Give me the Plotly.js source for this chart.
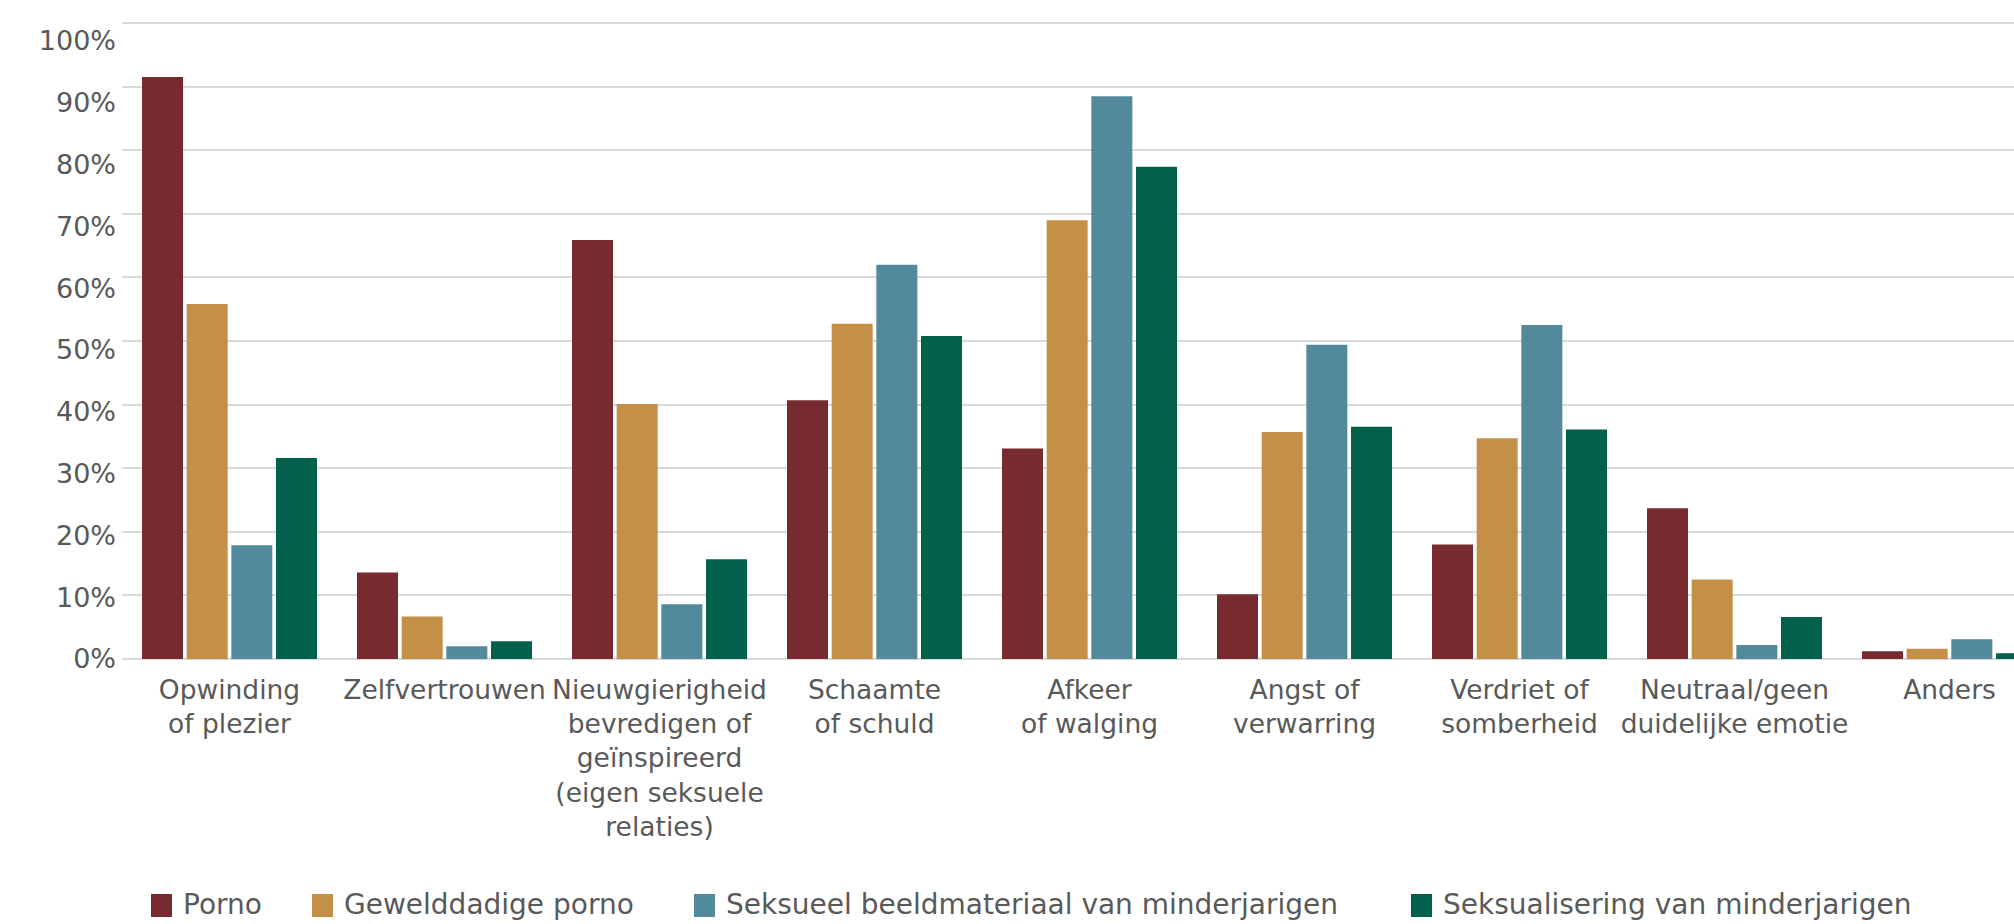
<!DOCTYPE html>
<html>
<head>
<meta charset="utf-8">
<script src="https://cdn.plot.ly/plotly-3.0.1.min.js"></script>
<style>
  html, body { margin: 0; padding: 0; background: #ffffff; }
  #chart { width: 2014px; height: 924px; }
</style>
</head>
<body>
<div id="chart"></div>
<script>
// ---- Data ----
const categories = [
  "Opwinding<br>of plezier",
  "Zelfvertrouwen",
  "Nieuwgierigheid<br>bevredigen of<br>geïnspireerd<br>(eigen seksuele<br>relaties)",
  "Schaamte<br>of schuld",
  "Afkeer<br>of walging",
  "Angst of<br>verwarring",
  "Verdriet of<br>somberheid",
  "Neutraal/geen<br>duidelijke emotie",
  "Anders"
];
const seriesNames = [
  "Porno",
  "Gewelddadige porno",
  "Seksueel beeldmateriaal van minderjarigen",
  "Seksualisering van minderjarigen"
];
const porno       = [91.5, 13.6, 65.9, 40.7, 33.1, 10.2, 18.0, 23.7, 1.2];
const geweld      = [55.8,  6.7, 40.1, 52.7, 69.0, 35.7, 34.7, 12.5, 1.6];
const seksBeeld   = [17.9,  2.0,  8.6, 62.0, 88.5, 49.4, 52.5,  2.2, 3.1];
const seksual     = [31.6,  2.8, 15.7, 50.8, 77.4, 36.5, 36.1,  6.6, 0.9];
const yTickVals   = [0, 10, 20, 30, 40, 50, 60, 70, 80, 90, 100];
const yTickLabels = ["0%", "10%", "20%", "30%", "40%", "50%", "60%", "70%", "80%", "90%", "100%"];

const colors = ["#772B31", "#C49048", "#538A9B", "#03604B"];
const values = [porno, geweld, seksBeeld, seksual];

const traces = values.map((v, i) => ({
  type: "bar",
  name: seriesNames[i],
  x: categories,
  y: v,
  marker: { color: colors[i], line: { width: 0 } },
  showlegend: false,
  hovertemplate: "%{y:.1f}%<extra>" + seriesNames[i] + "</extra>"
}));

// invisible companion trace so the label axis (y2) is drawn
traces.push({
  type: "scatter", mode: "markers",
  x: [categories[0]], y: [0], yaxis: "y2",
  marker: { opacity: 0, size: 1 },
  showlegend: false, hoverinfo: "skip"
});

// ---- Layout geometry (pixels) ----
const W = 2014, H = 924;
const mL = 122, mR = 0, mT = 20, mB = 265;
const plotW = W - mL - mR, plotH = H - mT - mB;   // 639
const gridPxPerUnit = 6.36;    // gridlines: 10% = 63.6 px
const labelPxPerUnit = 6.18;   // tick labels: 10% = 61.8 px
const px2paperX = p => (p - mL) / plotW;
const px2paperY = p => (H - mB - p) / plotH;

const fontFamily = "'DejaVu Sans', Verdana, sans-serif";
const textColor = "#595959";

// manual legend (swatch + label)
const legendSwatchX = [151, 312, 694, 1411];
const legendTop = 894, legendBottom = 917, legendMid = 904;
const shapes = [];
const annotations = [];
seriesNames.forEach((nm, i) => {
  shapes.push({
    type: "rect", xref: "paper", yref: "paper",
    x0: px2paperX(legendSwatchX[i]), x1: px2paperX(legendSwatchX[i] + 21),
    y0: px2paperY(legendBottom), y1: px2paperY(legendTop),
    fillcolor: colors[i], line: { width: 0 }
  });
  annotations.push({
    xref: "paper", yref: "paper",
    x: px2paperX(legendSwatchX[i] + 31), y: px2paperY(legendMid),
    xanchor: "left", yanchor: "middle",
    text: nm, showarrow: false, borderpad: 0,
    font: { family: fontFamily, size: 28, color: textColor }
  });
});

const layout = {
  width: W, height: H,
  margin: { l: mL, r: mR, t: mT, b: mB, pad: 0 },
  paper_bgcolor: "#ffffff",
  plot_bgcolor: "#ffffff",
  font: { family: fontFamily, size: 26, color: textColor },
  barmode: "group",
  bargap: 0.169,
  bargroupgap: 0.082,
  showlegend: false,
  xaxis: {
    type: "category",
    range: [-0.5, 8.3],
    showgrid: false,
    showline: false,
    zeroline: false,
    ticks: "",
    ticklabelstandoff: 12,
    tickfont: { family: fontFamily, size: 26.5, color: textColor },
    fixedrange: true
  },
  yaxis: {
    range: [0, plotH / gridPxPerUnit],
    tickvals: yTickVals,
    showticklabels: false,
    showgrid: true,
    gridcolor: "#D9D9D9",
    gridwidth: 2,
    zeroline: true,
    zerolinecolor: "#D9D9D9",
    zerolinewidth: 2,
    showline: false,
    ticks: "",
    fixedrange: true
  },
  yaxis2: {
    overlaying: "y",
    side: "left",
    range: [0, plotH / labelPxPerUnit],
    tickmode: "array",
    tickvals: yTickVals,
    ticktext: yTickLabels,
    ticklabelstandoff: 5,
    showgrid: false,
    zeroline: false,
    showline: false,
    ticks: "",
    tickfont: { family: fontFamily, size: 27, color: textColor },
    fixedrange: true
  },
  shapes: shapes,
  annotations: annotations
};

Plotly.newPlot("chart", traces, layout, { displayModeBar: false, staticPlot: true });
</script>
</body>
</html>
